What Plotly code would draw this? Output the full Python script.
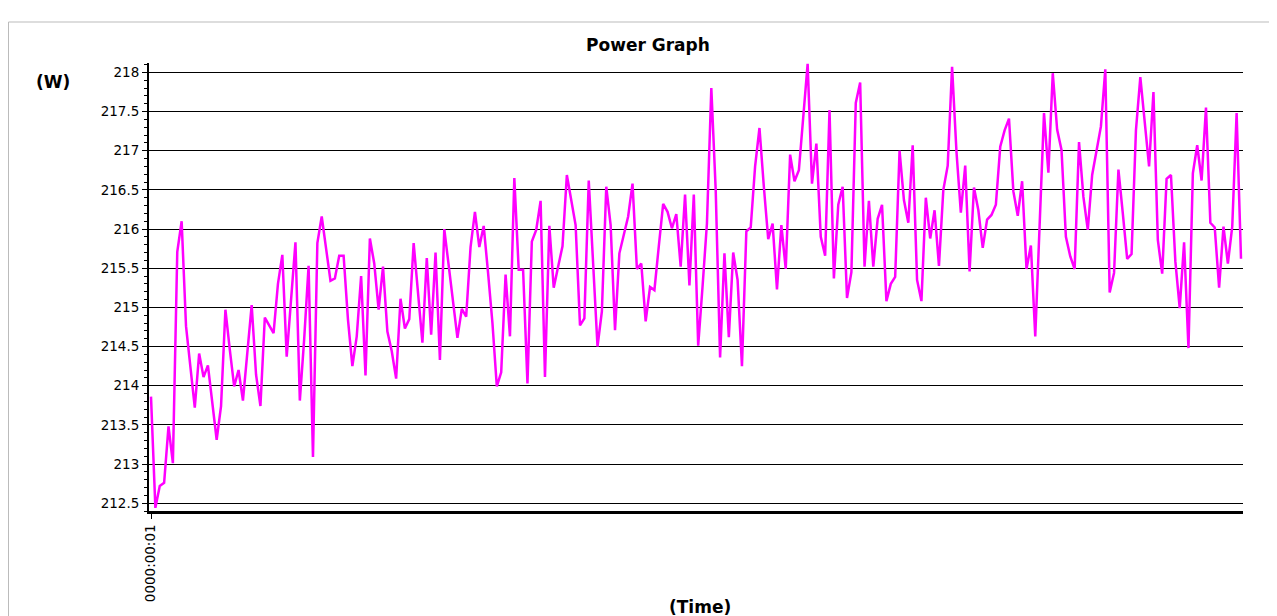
import plotly.graph_objects as go

# Power readings (W), one per second
power_w = [
    213.86, 212.44, 212.72, 212.76, 213.48, 213.01, 215.71, 216.10, 214.76, 214.20,
    213.72, 214.41, 214.11, 214.26, 213.74, 213.31, 213.74, 214.97, 214.46, 213.99,
    214.20, 213.81, 214.42, 215.03, 214.14, 213.74, 214.87, 214.77, 214.67, 215.30,
    215.67, 214.37, 215.10, 215.83, 213.81, 214.60, 215.53, 213.09, 215.82, 216.16,
    215.75, 215.34, 215.37, 215.66, 215.66, 214.84, 214.25, 214.63, 215.40, 214.13,
    215.88, 215.56, 214.97, 215.52, 214.69, 214.44, 214.09, 215.11, 214.73, 214.85,
    215.82, 215.18, 214.55, 215.63, 214.65, 215.70, 214.33, 216.00, 215.52, 215.05,
    214.61, 214.98, 214.88, 215.77, 216.22, 215.77, 216.04, 215.44, 214.80, 213.99,
    214.17, 215.42, 214.63, 216.65, 215.48, 215.48, 214.03, 215.84, 215.99, 216.36,
    214.11, 216.04, 215.25, 215.52, 215.78, 216.69, 216.37, 216.05, 214.77, 214.86,
    216.62, 215.56, 214.50, 214.95, 216.54, 216.05, 214.71, 215.69, 215.91, 216.16,
    216.58, 215.49, 215.56, 214.82, 215.26, 215.22, 215.78, 216.32, 216.22, 216.01,
    216.19, 215.52, 216.44, 215.28, 216.44, 214.51, 215.27, 216.07, 217.80, 216.50,
    214.36, 215.69, 214.62, 215.70, 215.35, 214.25, 215.97, 216.02, 216.80, 217.29,
    216.54, 215.87, 216.07, 215.23, 216.05, 215.49, 216.95, 216.61, 216.75, 217.48,
    218.11, 216.58, 217.09, 215.90, 215.66, 217.52, 215.37, 216.31, 216.54, 215.12,
    215.45, 217.61, 217.87, 215.52, 216.36, 215.52, 216.13, 216.31, 215.08, 215.30,
    215.39, 217.00, 216.37, 216.08, 217.07, 215.35, 215.08, 216.40, 215.88, 216.24,
    215.53, 216.50, 216.81, 218.07, 216.99, 216.21, 216.81, 215.46, 216.53, 216.24,
    215.76, 216.12, 216.18, 216.31, 217.05, 217.26, 217.41, 216.48, 216.17, 216.61,
    215.49, 215.79, 214.63, 216.05, 217.48, 216.72, 217.99, 217.27, 217.01, 215.90,
    215.65, 215.49, 217.11, 216.41, 215.99, 216.69, 217.01, 217.31, 218.04, 215.19,
    215.44, 216.76, 216.20, 215.62, 215.68, 217.26, 217.94, 217.37, 216.80, 217.75,
    215.86, 215.43, 216.64, 216.69, 215.59, 214.99, 215.83, 214.48, 216.71, 217.07,
    216.62, 217.55, 216.08, 216.02, 215.25, 216.03, 215.56, 216.03, 217.48, 215.62,
]
seconds = list(range(1, len(power_w) + 1))

y_tick_vals = [212.5, 213, 213.5, 214, 214.5, 215, 215.5, 216, 216.5, 217, 217.5, 218]
y_tick_text = ["212.5", "213", "213.5", "214", "214.5", "215", "215.5", "216",
               "216.5", "217", "217.5", "218"]
x_tick_vals = [1]
x_tick_text = ["0000:00:01"]

FONT = "DejaVu Sans"
OFF = 8                      # page body margin in the browser
W, H = 1277 - OFF, 616 - OFF
# plot area in page pixels
L, R, T, B = 149, 1243, 63, 511

n = len(power_w)
step = (1241 - 151) / (n - 1)
x0 = 1 - (151 - L) / step
x1 = n + (R - 1241) / step

def px(xp):
    return (xp - L) / (R - L)

def py(yp):
    return (B - yp) / (B - T)

fig = go.Figure()
fig.add_trace(go.Scatter(
    x=seconds, y=power_w, mode="lines",
    line=dict(color="#FF00FF", width=2.5),
    showlegend=False, hoverinfo="skip",
))

fig.update_layout(
    width=W, height=H,
    margin=dict(l=L - OFF, r=W - (R - OFF), t=T - OFF, b=H - (B - OFF), pad=0),
    paper_bgcolor="white", plot_bgcolor="white",
    font=dict(family=FONT, size=13.5, color="black"),
    title=dict(text="<b>Power Graph</b>", x=(648 - OFF) / W, xanchor="center",
               y=1 - (45 - OFF) / H, yanchor="middle",
               font=dict(family=FONT, size=17, color="black")),
    xaxis=dict(range=[x0, x1], showgrid=False, zeroline=False,
               showline=True, linecolor="black", linewidth=3,
               tickvals=x_tick_vals, ticktext=x_tick_text, tickangle=-90,
               ticks="outside", ticklen=5, tickcolor="black",
               tickfont=dict(family=FONT, size=13.5, color="black")),
    yaxis=dict(range=[212.4, 218.12], showgrid=True, gridcolor="black", gridwidth=1.3,
               zeroline=False, showline=True, linecolor="black", linewidth=2,
               tickvals=y_tick_vals, ticktext=y_tick_text,
               ticks="outside", ticklen=5, tickcolor="black",
               minor=dict(dtick=0.1, ticks="outside", ticklen=3, tickcolor="black",
                          showgrid=False),
               tickfont=dict(family=FONT, size=13.5, color="black")),
    annotations=[
        dict(text="<b>(W)</b>", xref="paper", yref="paper", x=px(53), y=py(82),
             xanchor="center", yanchor="middle", showarrow=False,
             font=dict(family=FONT, size=17, color="black")),
        dict(text="<b>(Time)</b>", xref="paper", yref="paper", x=px(700), y=py(607),
             xanchor="center", yanchor="middle", showarrow=False,
             font=dict(family=FONT, size=17, color="black")),
    ],
    shapes=[
        dict(type="line", xref="paper", yref="paper", x0=px(8.5), x1=px(8.5),
             y0=py(22), y1=py(H + OFF + 5), line=dict(color="#BBBBBB", width=1)),
        dict(type="line", xref="paper", yref="paper", x0=px(8.5), x1=px(W + OFF + 5),
             y0=py(22), y1=py(22), line=dict(color="#BBBBBB", width=1)),
    ],
)

fig.write_html("out.html")
